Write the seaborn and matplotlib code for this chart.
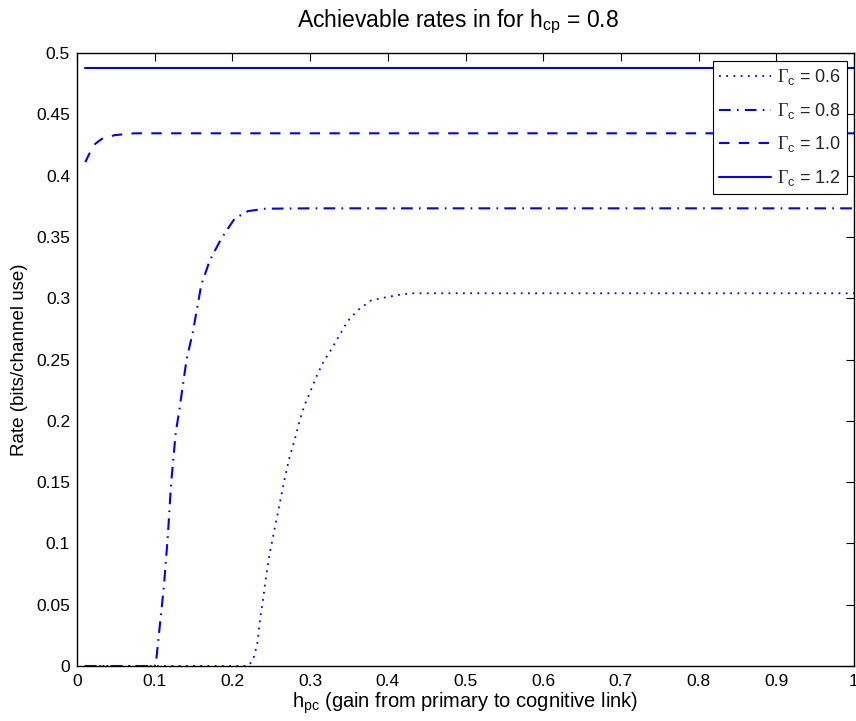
import numpy as np
import pandas as pd
import matplotlib
matplotlib.use("Agg")
import matplotlib.pyplot as plt
import seaborn as sns

# ---- data ----
x_g06 = [0.01, 0.10, 0.22, 0.222, 0.227, 0.232, 0.2355, 0.240, 0.244, 0.249, 0.255, 0.261,
         0.267, 0.273, 0.279, 0.287, 0.293, 0.301, 0.308, 0.317, 0.328, 0.338,
         0.348, 0.361, 0.378, 0.397, 0.417, 0.43, 0.6, 0.8, 1.0]
y_g06 = [0.0, 0.0, 0.0, 0.001, 0.006, 0.018, 0.0375, 0.057, 0.076, 0.095, 0.114, 0.133,
         0.152, 0.169, 0.182, 0.201, 0.213, 0.225, 0.236, 0.248, 0.259, 0.270,
         0.281, 0.290, 0.298, 0.3007, 0.303, 0.304, 0.304, 0.304, 0.304]

x_g08 = [0.01, 0.05, 0.10, 0.102, 0.112, 0.117, 0.121, 0.127, 0.132, 0.141, 0.149, 0.160,
         0.171, 0.186, 0.203, 0.220, 0.242, 0.3, 0.6, 1.0]
y_g08 = [0.0, 0.0, 0.0, 0.005, 0.066, 0.107, 0.148, 0.190, 0.210, 0.250, 0.272, 0.311,
         0.331, 0.349, 0.365, 0.371, 0.373, 0.3733, 0.3733, 0.3733]

x_g10 = [0.0107, 0.016, 0.0236, 0.032, 0.0485, 0.074, 0.2, 0.5, 1.0]
y_g10 = [0.411, 0.418, 0.426, 0.430, 0.433, 0.4345, 0.4345, 0.4345, 0.4345]

x_g12 = [0.0107, 0.5, 1.0]
y_g12 = [0.488, 0.488, 0.488]

labels = ["0.6", "0.8", "1.0", "1.2"]
xticks = [0, 0.1, 0.2, 0.3, 0.4, 0.5, 0.6, 0.7, 0.8, 0.9, 1.0]
yticks = [0, 0.05, 0.1, 0.15, 0.2, 0.25, 0.3, 0.35, 0.4, 0.45, 0.5]

sns.set_theme(style="white")
plt.rcParams['font.family'] = ['Liberation Sans', 'DejaVu Sans']
plt.rcParams['mathtext.fontset'] = 'custom'
plt.rcParams['mathtext.rm'] = 'Liberation Serif'
plt.rcParams['mathtext.sf'] = 'Liberation Sans'
plt.rcParams['mathtext.it'] = 'Liberation Sans:italic'

fig = plt.figure(figsize=(8.56, 7.21), dpi=100)
ax = fig.add_axes([77 / 856, 55 / 721, 777 / 856, 613 / 721])

series = [(x_g06, y_g06, (0, (1.0, 3.0)), 1.3),
          (x_g08, y_g08, (0, (5.6, 3.0, 0.8, 3.0)), 1.5),
          (x_g10, y_g10, (0, (5.0, 4.5)), 1.5),
          (x_g12, y_g12, '-', 1.5)]
for (xs, ys, ls, lw), lab in zip(series, labels):
    df = pd.DataFrame({"x": xs, "y": ys})
    sns.lineplot(data=df, x="x", y="y", ax=ax, color=(0, 0, 1), linestyle=ls,
                 linewidth=lw, label=r"$\Gamma_{\mathsf{c}}$ = " + lab,
                 estimator=None, sort=False)

ax.set_xlim(0, 1)
ax.set_ylim(0, 0.5)
ax.set_xticks(xticks)
ax.set_yticks(yticks)
ax.set_xticklabels(["%g" % v for v in xticks])
ax.set_yticklabels(["%g" % v for v in yticks])
ax.tick_params(direction='in', top=True, right=True, length=6, width=0.8,
               labelsize=12.5, colors='black')
ax.tick_params(axis='x', pad=6)
ax.tick_params(axis='y', pad=5)
for sp in ax.spines.values():
    sp.set_color('black')
    sp.set_linewidth(1.0)

ax.set_xlabel(r"h$_{\mathsf{pc}}$ (gain from primary to cognitive link)", fontsize=14.5,
              color='black', labelpad=1)
ax.set_ylabel("Rate (bits/channel use)", fontsize=13.5, color='black', labelpad=6)
ax.set_title(r"Achievable rates in for h$_{\mathsf{cp}}$ = 0.8", fontsize=16.5,
             color='black', pad=19, x=0.49)

leg = ax.legend(loc='upper right', bbox_to_anchor=(0.9915, 0.987), fontsize=13,
                frameon=True, fancybox=False, framealpha=1, edgecolor='black',
                handlelength=2.9, handletextpad=0.3, labelspacing=0.75,
                borderpad=0.35, borderaxespad=0)
leg.get_frame().set_linewidth(0.8)

fig.savefig("out.png", dpi=100, facecolor='white')
